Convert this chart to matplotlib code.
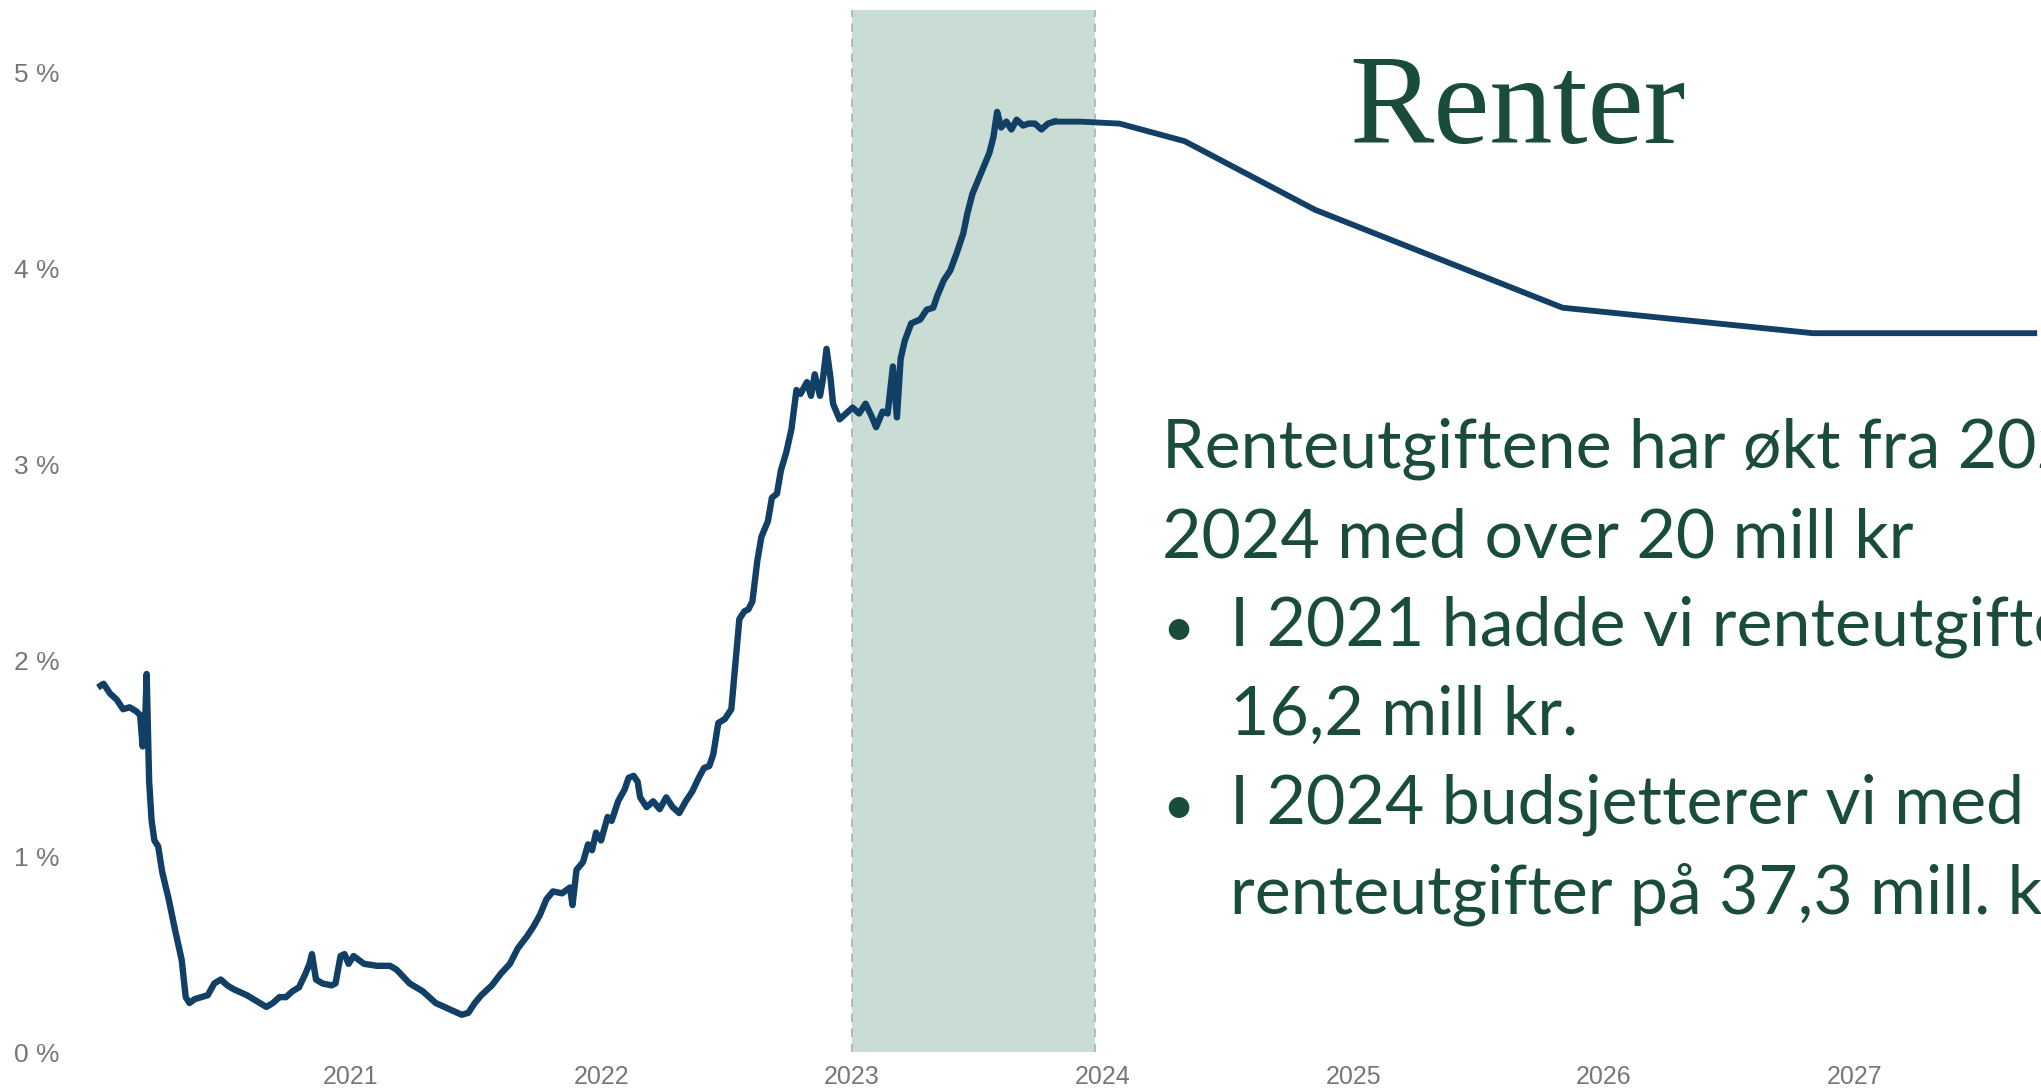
"""Renter - rentekurve med prognose og tekstpanel."""

import matplotlib
matplotlib.use("Agg")
import matplotlib.pyplot as plt

# historical rate (decimal year, percent)
hist_years = [
    2020.000, 2020.012, 2020.038, 2020.064, 2020.090, 2020.116, 2020.142, 2020.158,
    2020.168, 2020.178, 2020.184, 2020.194, 2020.204, 2020.215, 2020.230, 2020.246,
    2020.272, 2020.298, 2020.324, 2020.340, 2020.355, 2020.376, 2020.402, 2020.428,
    2020.454, 2020.480, 2020.506, 2020.532, 2020.584, 2020.636, 2020.662, 2020.688,
    2020.714, 2020.740, 2020.766, 2020.792, 2020.818, 2020.834, 2020.844, 2020.860,
    2020.886, 2020.922, 2020.938, 2020.958, 2020.974, 2020.990, 2021.010, 2021.031,
    2021.052, 2021.104, 2021.156, 2021.182, 2021.234, 2021.286, 2021.338, 2021.390,
    2021.442, 2021.468, 2021.494, 2021.520, 2021.562, 2021.598, 2021.634, 2021.666,
    2021.702, 2021.728, 2021.754, 2021.780, 2021.806, 2021.842, 2021.874, 2021.884,
    2021.900, 2021.926, 2021.946, 2021.962, 2021.978, 2021.998, 2022.024, 2022.040,
    2022.066, 2022.092, 2022.108, 2022.128, 2022.144, 2022.154, 2022.180, 2022.206,
    2022.232, 2022.258, 2022.284, 2022.310, 2022.336, 2022.362, 2022.388, 2022.409,
    2022.430, 2022.446, 2022.466, 2022.492, 2022.518, 2022.534, 2022.550, 2022.570,
    2022.586, 2022.602, 2022.622, 2022.638, 2022.664, 2022.680, 2022.700, 2022.716,
    2022.737, 2022.758, 2022.778, 2022.794, 2022.820, 2022.836, 2022.851, 2022.872,
    2022.883, 2022.898, 2022.914, 2022.924, 2022.950, 2022.976, 2023.002, 2023.028,
    2023.054, 2023.080, 2023.096, 2023.122, 2023.142, 2023.163, 2023.179, 2023.194,
    2023.210, 2023.236, 2023.272, 2023.298, 2023.324, 2023.340, 2023.366, 2023.392,
    2023.418, 2023.444, 2023.460, 2023.480, 2023.496, 2023.522, 2023.548, 2023.564,
    2023.579, 2023.595, 2023.616, 2023.636, 2023.657, 2023.683, 2023.704, 2023.730,
    2023.756, 2023.782, 2023.808,
]
hist_rate = [
    1.87, 1.88, 1.83, 1.80, 1.75, 1.76, 1.74, 1.72,
    1.56, 1.68, 1.93, 1.38, 1.18, 1.08, 1.05, 0.92,
    0.78, 0.62, 0.47, 0.28, 0.25, 0.27, 0.28, 0.29,
    0.35, 0.37, 0.34, 0.32, 0.29, 0.25, 0.23, 0.25,
    0.28, 0.28, 0.31, 0.33, 0.40, 0.45, 0.50, 0.37,
    0.35, 0.34, 0.35, 0.49, 0.50, 0.45, 0.49, 0.47,
    0.45, 0.44, 0.44, 0.42, 0.35, 0.31, 0.25, 0.22,
    0.19, 0.20, 0.25, 0.29, 0.34, 0.40, 0.45, 0.53,
    0.59, 0.64, 0.70, 0.78, 0.82, 0.81, 0.84, 0.75,
    0.93, 0.97, 1.06, 1.03, 1.12, 1.08, 1.20, 1.18,
    1.28, 1.34, 1.40, 1.41, 1.38, 1.30, 1.25, 1.28,
    1.24, 1.30, 1.25, 1.22, 1.28, 1.33, 1.40, 1.45,
    1.46, 1.52, 1.68, 1.70, 1.75, 1.98, 2.21, 2.25,
    2.26, 2.30, 2.51, 2.63, 2.71, 2.83, 2.85, 2.97,
    3.06, 3.18, 3.38, 3.36, 3.42, 3.35, 3.46, 3.35,
    3.43, 3.59, 3.44, 3.31, 3.23, 3.26, 3.29, 3.26,
    3.31, 3.24, 3.19, 3.27, 3.26, 3.50, 3.24, 3.54,
    3.63, 3.72, 3.74, 3.79, 3.80, 3.86, 3.94, 3.99,
    4.08, 4.18, 4.28, 4.38, 4.43, 4.51, 4.59, 4.67,
    4.80, 4.72, 4.75, 4.71, 4.76, 4.73, 4.74, 4.74,
    4.71, 4.74, 4.75,
]

# forecast path
fc_years = [2023.808, 2023.912, 2024.068, 2024.328, 2024.848, 2025.836, 2026.835, 2027.719]
fc_rate = [4.75, 4.75, 4.74, 4.65, 4.30, 3.80, 3.67, 3.67]

# shaded budget year
shade_span = (2023.0, 2023.97)

year_ticks = [2021, 2022, 2023, 2024, 2025, 2026, 2027]
pct_ticks = [0, 1, 2, 3, 4, 5]

title = "Renter"
# the slide is cropped on the right, so the long lines run off the edge
body_lines = [
    ("", "Renteutgiftene har økt fra 2021 til"),
    ("", "2024 med over 20 mill kr"),
    ("•", "I 2021 hadde vi renteutgifter på"),
    ("", "16,2 mill kr."),
    ("•", "I 2024 budsjetterer vi med"),
    ("", "renteutgifter på 37,3 mill. kr."),
]
indent = [False, False, True, True, True, True]

W, H = 2041, 1092
LINE = "#123f66"
GREEN = "#194c3b"
GREY = "#767676"

fig = plt.figure(figsize=(W / 100, H / 100), dpi=100)
ax = fig.add_axes([80 / W, (H - 1052) / H, (W - 80) / W, (1052 - 10) / H])

ax.axvspan(*shade_span, facecolor="#c9ddd5", edgecolor="none", zorder=1)
for xv in shade_span:
    ax.axvline(xv, color="#a9b3b0", lw=1.2, ls=(0, (5, 4)), zorder=1.5)

ax.plot(hist_years, hist_rate, color=LINE, lw=4.6, solid_joinstyle="round", zorder=3)
ax.plot(fc_years, fc_rate, color=LINE, lw=4.2, solid_joinstyle="round", zorder=3)

ax.set_xlim(2019.918, 2027.746)
ax.set_ylim(0, 5.32)
ax.set_xticks(year_ticks)
ax.set_xticklabels([str(y) for y in year_ticks])
ax.set_yticks(pct_ticks)
ax.set_yticklabels([f"{p} %" for p in pct_ticks])
ax.tick_params(axis="both", length=0, colors=GREY)
ax.tick_params(axis="y", pad=15, labelsize=19)
ax.tick_params(axis="x", pad=9, labelsize=18)
for lbl in ax.get_yticklabels() + ax.get_xticklabels():
    lbl.set_fontfamily("Liberation Sans")
for s in ax.spines.values():
    s.set_visible(False)

fig.text(1349 / W, 1 - 143 / H, title, fontsize=91, color=GREEN,
         family="Liberation Serif", va="baseline", ha="left")

base = 468
for i, (bullet, txt) in enumerate(body_lines):
    y = 1 - (base + i * 89) / H
    x = 1230 if indent[i] else 1162
    if bullet:
        fig.text(1162 / W, y, bullet, fontsize=40, color=GREEN, family="Lato",
                 va="baseline", ha="left")
    fig.text(x / W, y, txt, fontsize=49, color=GREEN, family="Lato",
             va="baseline", ha="left")

fig.savefig("out.png", dpi=100)
